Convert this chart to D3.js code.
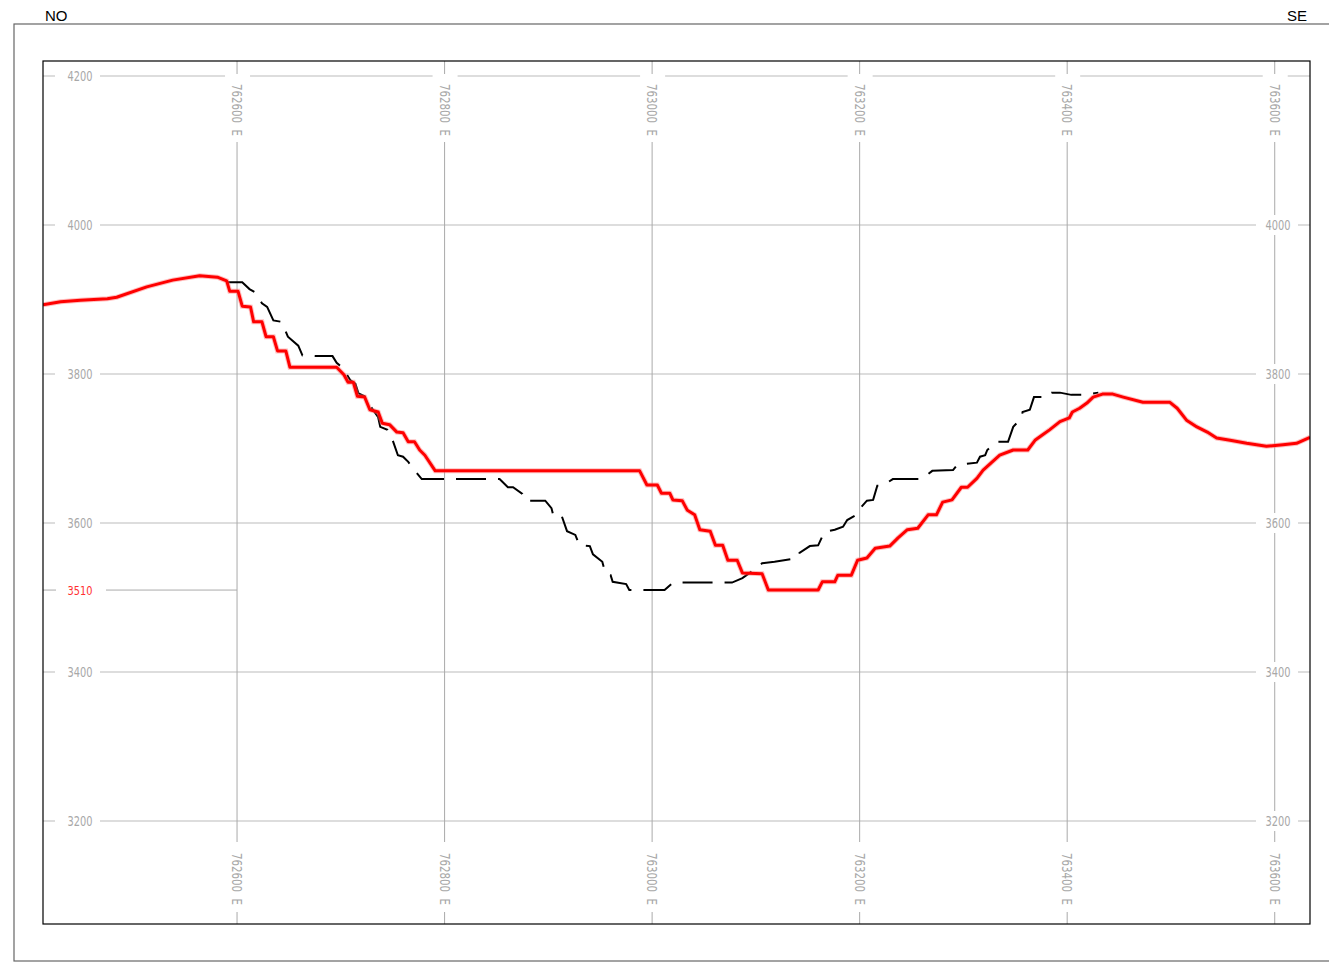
<!DOCTYPE html>
<html>
<head>
  <meta charset="utf-8">
  <title>Perfil NO - SE</title>
  <script src="https://d3js.org/d3.v7.min.js"></script>
  <style>
    body { margin: 0; background: #fff; }
    .lbl { font-family: "Liberation Sans Narrow", "DejaVu Sans Condensed", sans-serif; font-size: 13.5px; fill: #a8a8a8; white-space: pre; }
  </style>
</head>
<body>
  <svg id="grafico"></svg>

  <script>
    // cotas (eje vertical) y estes (eje horizontal)
    const cotas = [4200, 4000, 3800, 3600, 3400, 3200];
    const cotasDerecha = [4000, 3800, 3600, 3400, 3200];
    const estes = [762600, 762800, 763000, 763200, 763400, 763600];
    const cotaFondo = 3510;

    // terreno (rojo): [este, cota]
    const terreno = [
      [762413, 3893], [762430, 3897], [762449, 3899], [762475, 3901], [762484, 3903],
      [762513, 3917], [762538, 3926], [762564, 3932], [762581, 3930], [762590, 3925],
      [762593, 3911], [762601, 3911], [762605, 3891], [762613, 3890], [762616, 3870],
      [762624, 3870], [762628, 3850], [762635, 3850], [762639, 3831], [762647, 3831],
      [762651, 3809], [762696, 3809], [762703, 3799], [762707, 3789], [762712, 3789],
      [762716, 3770], [762723, 3769], [762728, 3752], [762736, 3749], [762740, 3734],
      [762747, 3732], [762754, 3722], [762760, 3721], [762765, 3709], [762771, 3709],
      [762776, 3698], [762781, 3691], [762791, 3670], [762988, 3670], [762995, 3651],
      [763005, 3651], [763009, 3640], [763017, 3640], [763020, 3631], [763029, 3630],
      [763034, 3617], [763041, 3611], [763046, 3591], [763056, 3589], [763061, 3570],
      [763068, 3570], [763073, 3550], [763082, 3550], [763087, 3533], [763106, 3532],
      [763112, 3510], [763160, 3510], [763164, 3521], [763176, 3521], [763179, 3530],
      [763192, 3530], [763198, 3550], [763207, 3553], [763215, 3566], [763229, 3569],
      [763237, 3580], [763246, 3591], [763256, 3593], [763266, 3611], [763274, 3611],
      [763280, 3628], [763289, 3631], [763298, 3648], [763304, 3648], [763313, 3660],
      [763319, 3671], [763327, 3681], [763335, 3691], [763348, 3698], [763362, 3698],
      [763369, 3711], [763376, 3718], [763383, 3725], [763393, 3736], [763402, 3741],
      [763405, 3749], [763412, 3754], [763419, 3761], [763425, 3769], [763434, 3773],
      [763444, 3773], [763454, 3769], [763473, 3762], [763499, 3762], [763506, 3754],
      [763515, 3738], [763525, 3729], [763535, 3722], [763544, 3714], [763557, 3711],
      [763573, 3707], [763592, 3703], [763608, 3705], [763621, 3707], [763634, 3715]
    ];

    // diseño (negro discontinuo): [este, cota]
    const diseno = [
      [762591, 3923], [762605, 3923], [762612, 3914], [762617, 3910], [762624, 3895],
      [762629, 3890], [762635, 3872], [762643, 3870], [762649, 3850], [762659, 3838],
      [762663, 3825], [762678, 3824], [762692, 3824], [762696, 3815], [762701, 3809],
      [762704, 3803], [762709, 3792], [762714, 3787], [762717, 3774], [762723, 3770],
      [762728, 3758], [762736, 3742], [762738, 3729], [762745, 3725], [762750, 3711],
      [762755, 3691], [762760, 3689], [762765, 3682], [762771, 3671], [762778, 3659],
      [762853, 3659], [762861, 3648], [762866, 3648], [762875, 3639], [762878, 3630],
      [762897, 3630], [762903, 3620], [762905, 3609], [762913, 3609], [762918, 3589],
      [762926, 3584], [762930, 3570], [762940, 3569], [762943, 3558], [762952, 3548],
      [762955, 3532], [762960, 3530], [762962, 3521], [762975, 3518], [762978, 3510],
      [763012, 3510], [763020, 3520], [763077, 3520], [763087, 3526], [763101, 3540],
      [763106, 3546], [763118, 3548], [763140, 3553], [763142, 3560], [763152, 3569],
      [763160, 3570], [763166, 3588], [763176, 3591], [763184, 3595], [763188, 3604],
      [763197, 3611], [763200, 3619], [763207, 3630], [763213, 3631], [763217, 3650],
      [763222, 3650], [763232, 3659], [763260, 3659], [763270, 3670], [763290, 3671],
      [763294, 3678], [763313, 3681], [763316, 3689], [763321, 3691], [763323, 3698],
      [763332, 3709], [763343, 3709], [763348, 3729], [763356, 3741], [763357, 3749],
      [763364, 3752], [763368, 3769], [763381, 3769], [763385, 3775], [763393, 3775],
      [763404, 3772], [763417, 3772], [763430, 3775]
    ];

    const ancho = 1329, alto = 962;
    const marco = { left: 43, top: 61, right: 1310, bottom: 924 };

    const svg = d3.select("#grafico")
      .attr("width", ancho)
      .attr("height", alto);

    const x = d3.scaleLinear().domain([762413, 763634]).range([marco.left, marco.right]);
    const y = d3.scaleLinear().domain([4200, 3200]).range([76, 821]);

    // marco exterior
    svg.append("rect")
      .attr("x", 14).attr("y", 24)
      .attr("width", 1330).attr("height", 937)
      .attr("fill", "none").attr("stroke", "#666").attr("stroke-width", 1.2);

    svg.append("text").attr("x", 45).attr("y", 21)
      .style("font-family", "Liberation Sans, Arial, sans-serif").style("font-size", "15px")
      .text("NO");
    svg.append("text").attr("x", 1287).attr("y", 21)
      .style("font-family", "Liberation Sans, Arial, sans-serif").style("font-size", "15px")
      .text("SE");

    // rejilla
    const rejilla = svg.append("g");
    rejilla.selectAll(".h")
      .data(cotas)
      .enter()
      .append("line")
      .attr("x1", marco.left).attr("x2", marco.right)
      .attr("y1", d => y(d)).attr("y2", d => y(d))
      .style("stroke", "#bbb");

    rejilla.append("line")
      .attr("x1", marco.left).attr("x2", x(762600))
      .attr("y1", y(cotaFondo)).attr("y2", y(cotaFondo))
      .style("stroke", "#aaa");

    rejilla.selectAll(".v")
      .data(estes)
      .enter()
      .append("line")
      .attr("x1", d => x(d)).attr("x2", d => x(d))
      .attr("y1", marco.top).attr("y2", marco.bottom)
      .style("stroke", "#aaa");

    // etiquetas de cota, izquierda
    const etiquetas = svg.append("g");
    cotas.forEach(c => {
      etiquetas.append("rect").attr("x", 55).attr("y", y(c) - 9).attr("width", 45).attr("height", 18).attr("fill", "#fff");
      etiquetas.append("text").attr("class", "lbl")
        .attr("x", 80).attr("y", y(c)).attr("dy", "0.36em")
        .attr("text-anchor", "middle")
        .attr("textLength", 25).attr("lengthAdjust", "spacingAndGlyphs")
        .text(c);
    });
    etiquetas.append("rect").attr("x", 56).attr("y", y(cotaFondo) - 9).attr("width", 50).attr("height", 18).attr("fill", "#fff");
    etiquetas.append("text").attr("class", "lbl")
      .attr("x", 80).attr("y", y(cotaFondo)).attr("dy", "0.36em")
      .attr("text-anchor", "middle").style("fill", "#ff3030").style("font-size", "12.5px")
      .attr("textLength", 25).attr("lengthAdjust", "spacingAndGlyphs")
      .text(cotaFondo);

    // etiquetas de cota, derecha
    cotasDerecha.forEach(c => {
      etiquetas.append("rect").attr("x", 1256).attr("y", y(c) - 10).attr("width", 42).attr("height", 20).attr("fill", "#fff");
      etiquetas.append("text").attr("class", "lbl")
        .attr("x", 1278).attr("y", y(c)).attr("dy", "0.36em")
        .attr("text-anchor", "middle")
        .attr("textLength", 25).attr("lengthAdjust", "spacingAndGlyphs")
        .text(c);
    });

    // etiquetas de este, arriba y abajo
    estes.forEach(e => {
      [[marco.top + 13, marco.top + 81], [marco.bottom - 82, marco.bottom - 12]].forEach(([y0, y1]) => {
        etiquetas.append("rect").attr("x", x(e) - 12).attr("y", y0).attr("width", 25).attr("height", y1 - y0).attr("fill", "#fff");
        etiquetas.append("text").attr("class", "lbl")
          .attr("transform", `translate(${x(e)},${(y0 + y1) / 2 + 2}) rotate(90)`)
          .attr("text-anchor", "middle").attr("dy", "0.36em")
          .attr("textLength", 52).attr("lengthAdjust", "spacingAndGlyphs")
          .text(e + "  E");
      });
    });

    // perfiles
    svg.append("clipPath").attr("id", "recorte")
      .append("rect")
      .attr("x", marco.left).attr("y", marco.top)
      .attr("width", marco.right - marco.left).attr("height", marco.bottom - marco.top);

    const linea = d3.line().x(d => x(d[0])).y(d => y(d[1]));
    const perfiles = svg.append("g").attr("clip-path", "url(#recorte)");

    perfiles.append("path")
      .datum(diseno)
      .attr("d", linea)
      .attr("fill", "none")
      .attr("stroke", "#000")
      .attr("stroke-width", 2)
      .attr("stroke-dasharray", "30,12");

    perfiles.append("path")
      .datum(terreno)
      .attr("d", linea)
      .attr("fill", "none")
      .attr("stroke", "#ff7070")
      .attr("stroke-width", 5)
      .attr("stroke-opacity", 0.45);

    perfiles.append("path")
      .datum(terreno)
      .attr("d", linea)
      .attr("fill", "none")
      .attr("stroke", "#ff0000")
      .attr("stroke-width", 3)
      .attr("stroke-linejoin", "round");

    // marco interior
    svg.append("rect")
      .attr("x", marco.left).attr("y", marco.top)
      .attr("width", marco.right - marco.left).attr("height", marco.bottom - marco.top)
      .attr("fill", "none").attr("stroke", "#000").attr("stroke-width", 1.2);
  </script>
</body>
</html>
